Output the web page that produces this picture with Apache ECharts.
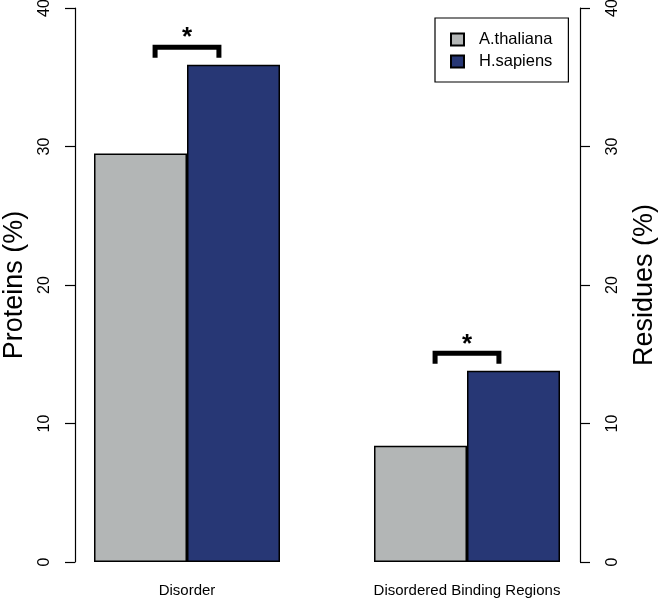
<!DOCTYPE html>
<html>
<head>
<meta charset="utf-8">
<script src="https://cdn.jsdelivr.net/npm/echarts@6/dist/echarts.min.js"></script>
<style>html,body{margin:0;padding:0;background:#fff}#c{width:661px;height:602px}</style>
</head>
<body>
<div id="c"></div>
<script>
const categories = ['Disorder', 'Disordered Binding Regions'];
const athaliana = [29.5, 8.4];
const hsapiens = [35.9, 13.8];
const significance = ['*', '*'];
const yTicks = [0, 10, 20, 30, 40];

const FONT = '"Liberation Sans", Arial, Helvetica, sans-serif';
const chart = echarts.init(document.getElementById('c'), null, {renderer: 'canvas'});

const sigData = categories.map((c, i) => [i, Math.max(athaliana[i], hsapiens[i]), significance[i]]);

function yAxisCommon(name, pos, offset, nameGap, labelMargin) {
  return {
    type: 'value', position: pos, offset: offset,
    min: yTicks[0], max: yTicks[yTicks.length - 1], interval: 10,
    name: name, nameLocation: 'middle', nameRotate: 90, nameGap: nameGap,
    nameTextStyle: {fontFamily: FONT, fontSize: 27, color: '#000'},
    axisLine: {show: true, lineStyle: {color: '#000', width: 1.2}},
    axisTick: {show: true, length: 10, lineStyle: {color: '#000', width: 1.2}},
    axisLabel: {rotate: 90, fontFamily: FONT, fontSize: 16, color: '#000', margin: labelMargin},
    splitLine: {show: false}
  };
}

chart.setOption({
  animation: false,
  backgroundColor: '#fff',
  grid: {left: 47, right: 54, top: 8, bottom: 40, containLabel: false, outerBoundsMode: 'none'},
  legend: {
    orient: 'vertical', left: 435, top: 18,
    padding: [13, 16, 12, 15],
    borderColor: '#000', borderWidth: 1.2, borderRadius: 0,
    itemWidth: 13, itemHeight: 12, itemGap: 5,
    textStyle: {fontFamily: FONT, fontSize: 16.5, color: '#000', lineHeight: 16, padding: [0, 0, 0, 10]},
    data: [{name: 'A.thaliana', icon: 'rect'}, {name: 'H.sapiens', icon: 'rect'}]
  },
  xAxis: {
    type: 'category', data: categories,
    axisLine: {show: false}, axisTick: {show: false},
    axisLabel: {fontFamily: FONT, fontSize: 15, color: '#000', margin: 21}
  },
  yAxis: [
    yAxisCommon('Proteins (%)', 'left', -28, 47, 22),
    yAxisCommon('Residues (%)', 'right', -27, 51, 25)
  ],
  series: [
    {
      name: 'A.thaliana', type: 'bar', data: athaliana, barWidth: 93, barGap: '0%',
      itemStyle: {color: '#B3B6B6', borderColor: '#000', borderWidth: 1.5}
    },
    {
      name: 'H.sapiens', type: 'bar', data: hsapiens, barWidth: 93, barGap: '0%',
      itemStyle: {color: '#273775', borderColor: '#000', borderWidth: 1.5}
    },
    {
      type: 'custom', silent: true, z: 10,
      data: sigData,
      renderItem: function (params, api) {
        const p = api.coord([api.value(0), api.value(1)]);
        const band = api.size([1, 0])[0];
        const hw = band * 0.114;
        const legBottom = p[1] - 7;
        const top = legBottom - 10.5;
        return {
          type: 'group',
          children: [
            {
              type: 'polyline',
              shape: {points: [[p[0] - hw, legBottom], [p[0] - hw, top], [p[0] + hw, top], [p[0] + hw, legBottom]]},
              style: {stroke: '#000', lineWidth: 5, fill: null, lineJoin: 'miter', lineCap: 'butt'}
            },
            {
              type: 'text',
              style: {
                text: api.value(2), x: p[0], y: top - 9,
                fill: '#000', font: 'bold 26px ' + FONT,
                align: 'center', verticalAlign: 'middle'
              }
            }
          ]
        };
      }
    }
  ]
});
</script>
</body>
</html>
